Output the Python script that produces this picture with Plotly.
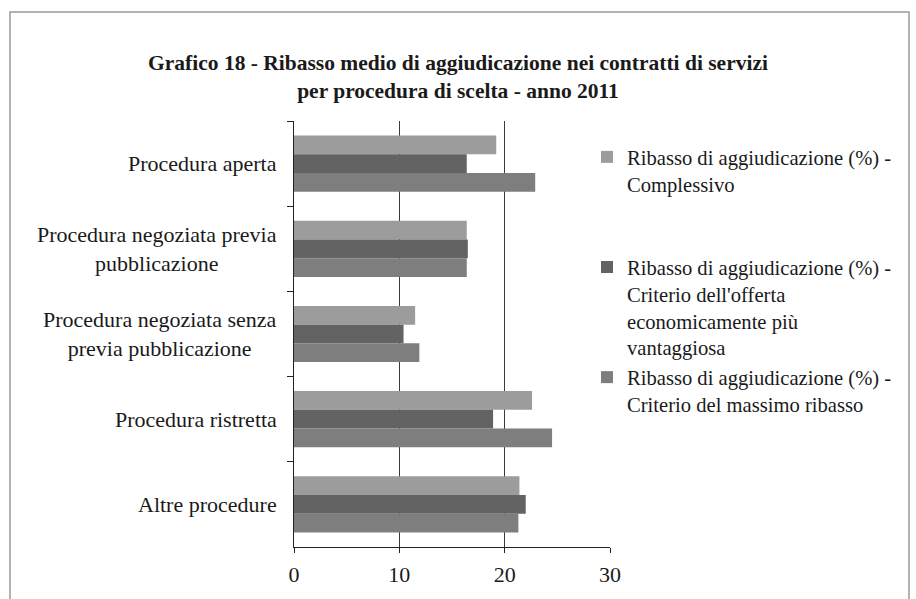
import plotly.graph_objects as go

categories = [
    "Procedura aperta",
    "Procedura negoziata previa<br>pubblicazione",
    "Procedura negoziata senza<br>previa pubblicazione",
    "Procedura ristretta",
    "Altre procedure",
]
series_names = [
    "Ribasso di aggiudicazione (%) -<br>Complessivo<br> <br> ",
    "Ribasso di aggiudicazione (%) -<br>Criterio dell'offerta<br>economicamente più<br>vantaggiosa",
    "Ribasso di aggiudicazione (%) -<br>Criterio del massimo ribasso",
]
complessivo = [19.2, 16.4, 11.5, 22.6, 21.4]
offerta = [16.4, 16.5, 10.4, 18.9, 22.0]
massimo = [22.9, 16.4, 11.9, 24.5, 21.3]
x_ticks = [0, 10, 20, 30]

colors = ["#9c9c9c", "#636363", "#7e7e7e"]
FONT = "Liberation Serif"

W, H = 916, 599
ML, MR, MT, MB = 294, 306, 121, 52
PW, PH = W - ML - MR, H - MT - MB

def px_x(p):
    return (p - ML) / PW

def px_y(p):
    return (H - MB - p) / PH

fig = go.Figure()
for name, vals, col in zip(series_names, [complessivo, offerta, massimo], colors):
    fig.add_trace(go.Bar(
        y=categories, x=vals, name=name, orientation="h",
        marker=dict(color=col, line=dict(width=0)),
    ))

for c in categories:
    fig.add_annotation(
        x=0, xref="paper", y=c, yref="y", text=c, showarrow=False,
        xanchor="right", xshift=-15, align="center",
        font=dict(family=FONT, size=22, color="#1a1a1a"),
    )

fig.add_shape(type="rect", xref="paper", yref="paper",
              x0=px_x(10), x1=px_x(909), y0=px_y(620), y1=px_y(12),
              line=dict(color="#9a9a9a", width=1.5), layer="below")

fig.update_layout(
    width=W, height=H,
    margin=dict(l=ML, r=MR, t=MT, b=MB, autoexpand=False),
    paper_bgcolor="white", plot_bgcolor="white",
    barmode="group", bargap=0.34, bargroupgap=0,
    title=dict(
        text="Grafico 18 - Ribasso medio di aggiudicazione nei contratti di servizi<br>per procedura di scelta - anno 2011",
        x=0.5, xanchor="center", y=1 - 70 / H, yanchor="top",
        font=dict(family=FONT, size=21.5, color="#1a1a1a", weight="bold"),
    ),
    font=dict(family=FONT, size=20, color="#1a1a1a"),
    showlegend=True,
    legend=dict(
        x=px_x(587), xanchor="left", y=px_y(137), yanchor="top",
        valign="top", bgcolor="rgba(0,0,0,0)",
        font=dict(family=FONT, size=20.6, color="#1a1a1a"),
        traceorder="normal",
    ),
    xaxis=dict(
        range=[0, 30], tickvals=x_ticks, ticktext=[str(t) for t in x_ticks],
        showgrid=True, gridcolor="#3a3a3a", gridwidth=1,
        zeroline=False, showline=True, linecolor="#222", linewidth=1,
        ticks="outside", ticklen=5, tickcolor="#222", ticklabelstandoff=3,
        tickfont=dict(family=FONT, size=22, color="#1a1a1a"),
    ),
    yaxis=dict(
        autorange="reversed", showticklabels=False,
        tickson="boundaries", ticks="outside", ticklen=6, tickcolor="#222",
        showline=True, linecolor="#222", linewidth=1, showgrid=False,
    ),
)

fig.write_html("out.html", config={"displayModeBar": False},
               post_script="document.body.style.margin='0';")
